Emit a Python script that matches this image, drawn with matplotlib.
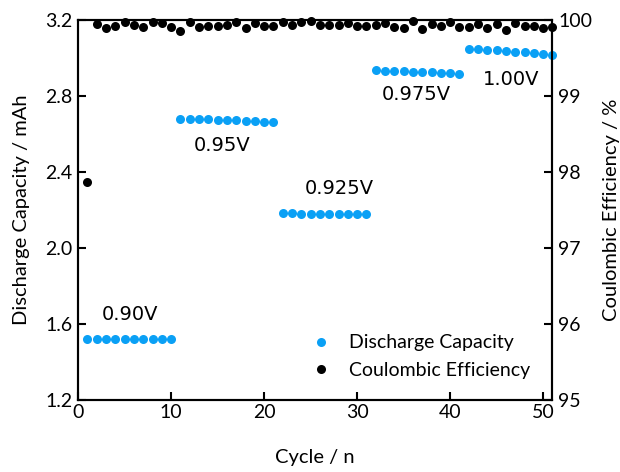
import numpy as np
import matplotlib
matplotlib.use('Agg')
import matplotlib.pyplot as plt

# discharge capacity (mAh) per voltage step
cycles = np.arange(1, 52)
cap_090 = [1.52] * 10
cap_095 = [2.68, 2.68, 2.68, 2.678, 2.675, 2.674, 2.672, 2.67, 2.668, 2.665, 2.664]
cap_0925 = [2.182, 2.182, 2.181, 2.181, 2.18, 2.18, 2.18, 2.179, 2.179, 2.178]
cap_0975 = [2.935, 2.934, 2.932, 2.93, 2.928, 2.926, 2.924, 2.922, 2.92, 2.917]
cap_100 = [3.05, 3.048, 3.045, 3.041, 3.037, 3.033, 3.03, 3.026, 3.022, 3.018]
capacity = cap_090 + cap_095 + cap_0925 + cap_0975 + cap_100

# coulombic efficiency (%)
ce = [97.87, 99.95, 99.90, 99.92, 99.97, 99.93, 99.91, 99.97, 99.96, 99.91,
      99.85, 99.97, 99.91, 99.92, 99.92, 99.93, 99.97, 99.90, 99.96, 99.92,
      99.92, 99.97, 99.93, 99.97, 99.99, 99.93, 99.94, 99.94, 99.96, 99.92,
      99.92, 99.93, 99.96, 99.91, 99.90, 99.99, 99.88, 99.95, 99.92, 99.97,
      99.91, 99.91, 99.95, 99.89, 99.95, 99.87, 99.96, 99.92, 99.92, 99.90,
      99.91]

labels = ['0.90V', '0.95V', '0.925V', '0.975V', '1.00V']
label_x = [5.6, 15.5, 28.1, 36.4, 46.6]
label_y = [1.65, 2.54, 2.313, 2.808, 2.887]

blue = '#0AA0F5'
font = 'Lato'

fig = plt.figure(figsize=(6.2, 4.72), dpi=100)
ax = fig.add_axes([0.126, 0.1525, 0.765, 0.805])
ax2 = ax.twinx()

l1, = ax.plot(cycles, capacity, 'o', color=blue, markersize=6.5,
              markeredgewidth=0, clip_on=False, zorder=3)
l2, = ax2.plot(cycles, ce, 'o', color='black', markersize=6.5,
               markeredgewidth=0, clip_on=False, zorder=3)

for t, x, y in zip(labels, label_x, label_y):
    ax.text(x, y, t, ha='center', va='center', fontsize=14, family='DejaVu Sans')

ax.set_xlim(0, 51)
ax.set_ylim(1.2, 3.2)
ax2.set_ylim(95, 100)
ax.set_xticks([0, 10, 20, 30, 40, 50])
ax.set_yticks([1.2, 1.6, 2.0, 2.4, 2.8, 3.2])
ax.set_yticklabels(['1.2', '1.6', '2.0', '2.4', '2.8', '3.2'])
ax2.set_yticks([95, 96, 97, 98, 99, 100])

for a in (ax, ax2):
    for s in a.spines.values():
        s.set_linewidth(1.5)
    a.tick_params(direction='in', length=6, width=1.5, labelsize=14)
    for lab in a.get_xticklabels() + a.get_yticklabels():
        lab.set_family(font)
ax.tick_params(axis='x', pad=3)
ax.tick_params(axis='y', pad=4)
ax2.tick_params(axis='y', pad=4)

ax.set_xlabel('Cycle / n', fontsize=14.5, family=font, labelpad=20)
ax.set_ylabel('Discharge Capacity / mAh', fontsize=14.5, family=font, labelpad=11)
ax2.set_ylabel('Coulombic Efficiency / %', fontsize=14.5, family=font, labelpad=8)

ax2.legend([l1, l2], ['Discharge Capacity', 'Coulombic Efficiency'],
           loc='lower left', bbox_to_anchor=(0.45, 0.029), frameon=False,
           borderpad=0, labelspacing=0.56, handletextpad=0.45,
           prop={'family': font, 'size': 14})

fig.savefig('out.png', dpi=100)
